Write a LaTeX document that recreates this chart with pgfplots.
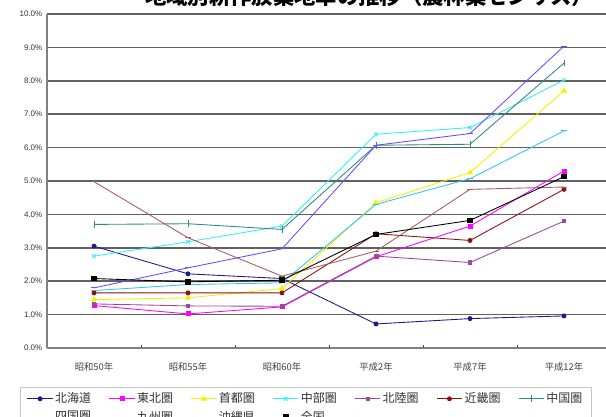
\documentclass[border=0pt]{standalone}
\usepackage{fontspec}
\setmainfont{Liberation Sans}
\newfontfamily\jp{Noto Sans CJK JP}
\usepackage{pgfplots}
\usepackage{pgfplotstable}
\pgfplotsset{compat=1.18}

\definecolor{cHokkaido}{HTML}{1A1A8C}
\definecolor{cTohoku}{HTML}{FF00FF}
\definecolor{cShuto}{HTML}{F2F200}
\definecolor{cChubu}{HTML}{33EEFF}
\definecolor{cHokuriku}{HTML}{9A4A9A}
\definecolor{cKinki}{HTML}{8C1010}
\definecolor{cChugoku}{HTML}{2E8A84}
\definecolor{cShikoku}{HTML}{6A4CFF}
\definecolor{cKyushu}{HTML}{33C4F5}
\definecolor{cOkinawa}{HTML}{A85C5C}

% rates in percent, one row per survey year
\pgfplotstableread{
x hokkaido tohoku shuto chubu hokuriku kinki chugoku shikoku kyushu okinawa zenkoku
0 3.05 1.27 1.45 2.75 1.32 1.65 3.70 1.80 1.72 4.98 2.08
1 2.22 1.02 1.50 3.18 1.26 1.65 3.72 2.40 1.90 3.30 1.98
2 2.08 1.23 1.78 3.65 1.25 1.65 3.55 2.97 1.95 2.15 2.03
3 0.72 2.73 4.35 6.40 2.75 3.42 6.07 6.07 4.30 2.90 3.40
4 0.88 3.65 5.25 6.60 2.56 3.22 6.10 6.42 5.07 4.75 3.82
5 0.96 5.30 7.70 8.02 3.80 4.75 8.53 9.04 6.50 4.82 5.13
}\rates

\begin{document}
\begin{tikzpicture}
\begin{axis}[
  name=main, at={(0,0)}, anchor=south west,
  scale only axis, width=423pt, height=250.5pt,
  xmin=-0.5, xmax=5.5, ymin=0, ymax=10,
  axis x line*=bottom, axis y line*=left,
  axis line style={black!50, line width=0.8pt},
  xtick={0,...,5},
  xticklabels={昭和50年,昭和55年,昭和60年,平成2年,平成7年,平成12年},
  xticklabel style={font=\jp\fontsize{7}{8}\selectfont, text=black!75, yshift=-7.5pt},
  extra x ticks={0.5,1.5,2.5,3.5,4.5},
  extra x tick labels={},
  extra x tick style={major tick length=2.5pt, tick style={draw=black!70, line width=0.6pt}, grid=none},
  tick align=inside,
  major tick length=0pt,
  ytick={0,...,10},
  ymajorgrids,
  grid style={black!62, line width=1.2pt},
  /pgf/number format/assume math mode=true,
  yticklabel={\pgfmathprintnumber[fixed,fixed zerofill,precision=1]{\tick}\%},
  yticklabel style={font=\fontsize{6}{7}\selectfont, text=black!80},
  every axis plot/.append style={line width=0.65pt},
  legend columns=7,
  legend cell align=left,
  legend image code/.code={\draw[mark repeat=2,mark phase=2,#1] plot coordinates {(0pt,0pt) (9.5pt,0pt) (19pt,0pt)};},
  legend style={at={(0,0)}, anchor=north west, xshift=-20.25pt, yshift=-29pt,
    draw=black!22, line width=0.5pt, inner xsep=5pt, inner ysep=2pt,
    font=\jp\fontsize{9}{10}\selectfont, text=black!80,
    nodes={inner xsep=1.5pt, inner ysep=2.3pt},
    /tikz/every even column/.append style={column sep=11.75pt}},
]
\addplot[color=cHokkaido, mark=*, mark size=1.5pt] table[x=x, y=hokkaido] {\rates};
\addlegendentry{北海道}
\addplot[color=cTohoku, mark=square*, mark size=1.5pt] table[x=x, y=tohoku] {\rates};
\addlegendentry{東北圏}
\addplot[color=cShuto, mark=triangle*, mark size=2pt] table[x=x, y=shuto] {\rates};
\addlegendentry{首都圏}
\addplot[color=cChubu, mark=x, mark size=2pt] table[x=x, y=chubu] {\rates};
\addlegendentry{中部圏}
\addplot[color=cHokuriku, mark=square*, mark size=1.2pt] table[x=x, y=hokuriku] {\rates};
\addlegendentry{北陸圏}
\addplot[color=cKinki, mark=*, mark size=1.5pt] table[x=x, y=kinki] {\rates};
\addlegendentry{近畿圏}
\addplot[color=cChugoku, mark=|, mark size=2.5pt] table[x=x, y=chugoku] {\rates};
\addlegendentry{中国圏}
\addplot[color=cShikoku, mark=-, mark size=2pt] table[x=x, y=shikoku] {\rates};
\addlegendentry{四国圏}
\addplot[color=cKyushu, mark=-, mark size=2pt] table[x=x, y=kyushu] {\rates};
\addlegendentry{九州圏}
\addplot[color=cOkinawa, mark=-, mark size=2pt] table[x=x, y=okinawa] {\rates};
\addlegendentry{沖縄県}
\addplot[color=black, mark=square*, mark size=1.7pt] table[x=x, y=zenkoku] {\rates};
\addlegendentry{全国}
\end{axis}
% chart title, only its lower edge falls inside the page
\node[anchor=south west, inner sep=0pt, font=\jp\bfseries\fontsize{16}{18}\selectfont]
  at ([xshift=73.5pt, yshift=5.5pt]main.north west) {地域別耕作放棄地率の推移（農林業センサス）};
\pgfresetboundingbox
\path[use as bounding box] (-35.25pt,-51.75pt) rectangle (419.25pt,261pt);
\end{tikzpicture}
\end{document}
